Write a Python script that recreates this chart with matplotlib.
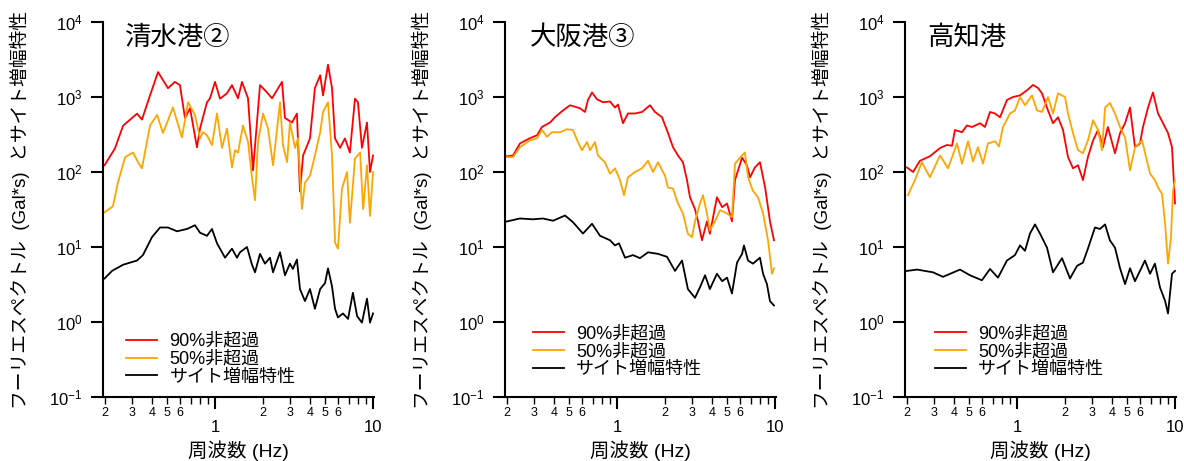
"""Fourier spectra (90% / 50% non-exceedance) and site amplification
for three ports, log-log, side by side -> out.png"""

import matplotlib
matplotlib.use("Agg")
import matplotlib.pyplot as plt
import numpy as np
from matplotlib.ticker import FixedLocator, FuncFormatter, NullLocator

plt.rcParams["font.family"] = ["Liberation Sans", "Noto Sans CJK JP"]
plt.rcParams["axes.unicode_minus"] = False

W, H = 1184, 461

# ---- 清水港② --------------------------------------------------------
shimizu_f90 = [0.20, 0.233, 0.262, 0.321, 0.345, 0.388, 0.436, 0.504, 0.558,
               0.600, 0.646, 0.695, 0.769, 0.804, 0.890, 0.930, 1.00, 1.076,
               1.191, 1.281, 1.398, 1.482, 1.618, 1.740, 1.927, 2.135, 2.295,
               2.654, 2.773, 3.07, 3.30, 3.45, 3.61, 3.99, 4.29, 4.63, 4.83,
               5.19, 5.50, 5.75, 6.19, 6.64, 7.14, 7.69, 8.03, 8.51, 9.16,
               9.57, 10.0]
shimizu_a90 = [123, 207, 414, 600, 500, 1050, 2150, 1310, 1590, 1440, 520,
               710, 213, 380, 850, 960, 1590, 950, 1120, 1440, 960, 1590, 960,
               105, 1440, 1150, 960, 1590, 525, 457, 600, 55, 166, 280, 1320,
               1950, 1050, 2700, 1320, 280, 210, 280, 182, 950, 850, 210, 457,
               100, 166]
shimizu_f50 = [0.20, 0.226, 0.243, 0.270, 0.303, 0.326, 0.345, 0.388, 0.430,
               0.469, 0.542, 0.618, 0.675, 0.747, 0.804, 0.839, 0.890, 0.957,
               1.03, 1.107, 1.191, 1.281, 1.339, 1.398, 1.504, 1.618, 1.715,
               1.792, 1.872, 2.013, 2.165, 2.329, 2.58, 2.69, 2.86, 2.98,
               3.21, 3.35, 3.55, 3.71, 3.99, 4.29, 4.63, 4.83, 5.19, 5.50,
               5.75, 6.00, 6.36, 6.85, 7.14, 7.69, 8.28, 8.66, 9.16, 9.57,
               10.0]
shimizu_a50 = [29, 35, 72, 158, 182, 135, 112, 417, 575, 331, 724, 288, 851,
               575, 282, 339, 309, 229, 603, 209, 380, 115, 195, 182, 417,
               251, 83, 42, 251, 603, 380, 123, 851, 229, 135, 457, 209, 282,
               32, 72, 89, 166, 339, 631, 851, 166, 11.5, 9.5, 60, 100, 21,
               151, 182, 32, 123, 26, 100]
shimizu_fs = [0.20, 0.223, 0.262, 0.321, 0.350, 0.399, 0.449, 0.504, 0.575,
              0.665, 0.747, 0.804, 0.890, 0.957, 1.03, 1.157, 1.281, 1.378,
              1.439, 1.594, 1.715, 1.792, 1.927, 2.072, 2.229, 2.329, 2.58,
              2.773, 2.98, 3.11, 3.30, 3.45, 3.71, 3.99, 4.29, 4.63, 4.97,
              5.19, 5.50, 5.75, 6.00, 6.45, 6.95, 7.46, 7.93, 8.51, 9.16,
              9.57, 10.0]
shimizu_as = [3.8, 4.8, 5.8, 6.6, 7.8, 13.5, 18.2, 18.2, 16.2, 17.4, 19.5,
              15.5, 14.1, 17.4, 11.2, 7.2, 9.5, 7.2, 8.5, 10.0, 5.8, 4.6, 8.1,
              6.0, 7.2, 4.6, 8.5, 4.2, 6.0, 5.1, 6.8, 2.75, 1.9, 2.75, 1.5,
              2.75, 3.3, 5.2, 3.0, 1.5, 1.15, 1.3, 1.1, 2.45, 1.2, 0.98, 2.05,
              0.98, 1.3]

# ---- 大阪港③ --------------------------------------------------------
osaka_f90 = [0.201, 0.220, 0.243, 0.281, 0.312, 0.335, 0.377, 0.405, 0.449,
             0.504, 0.583, 0.627, 0.655, 0.695, 0.747, 0.815, 0.903, 0.971,
             1.015, 1.091, 1.174, 1.300, 1.439, 1.618, 1.740, 1.927, 2.103,
             2.262, 2.433, 2.615, 2.773, 2.897, 3.115, 3.256, 3.45, 3.71,
             3.87, 4.29, 4.63, 4.97, 5.34, 5.58, 6.19, 6.64, 6.95, 7.46,
             8.03, 8.66, 9.29, 9.85]
osaka_a90 = [162, 166, 240, 282, 309, 398, 457, 537, 646, 776, 708, 631, 912,
             1150, 933, 851, 871, 724, 794, 447, 603, 603, 631, 776, 631, 537,
             331, 214, 166, 135, 78, 46, 32, 22, 12.3, 22, 15, 46, 34, 38, 22,
             78, 155, 123, 85, 115, 135, 62, 22, 12.3]
osaka_f50 = [0.201, 0.220, 0.243, 0.281, 0.312, 0.335, 0.360, 0.388, 0.436,
             0.482, 0.527, 0.566, 0.600, 0.646, 0.675, 0.726, 0.758, 0.839,
             0.903, 0.971, 1.045, 1.107, 1.174, 1.300, 1.439, 1.571, 1.690,
             1.818, 2.013, 2.103, 2.262, 2.433, 2.615, 2.81, 2.98, 3.115,
             3.35, 3.50, 3.71, 3.87, 4.17, 4.49, 4.97, 5.34, 5.58, 6.00,
             6.45, 6.75, 7.25, 7.81, 8.40, 9.03, 9.57, 9.85]
osaka_a50 = [158, 158, 214, 263, 282, 363, 295, 339, 339, 372, 363, 251, 195,
             251, 195, 251, 166, 135, 95, 112, 78, 49, 85, 100, 112, 141, 100,
             135, 89, 62, 60, 38, 28, 15, 13.5, 22, 38, 49, 28, 16.6, 22, 31,
             28, 25, 129, 155, 182, 85, 56, 46, 28, 12.3, 4.4, 5.2]
osaka_fs = [0.201, 0.243, 0.294, 0.340, 0.394, 0.469, 0.527, 0.609, 0.695,
            0.781, 0.903, 0.971, 1.03, 1.124, 1.263, 1.398, 1.571, 1.818,
            2.072, 2.329, 2.58, 2.81, 3.115, 3.35, 3.61, 3.87, 4.29, 4.63,
            4.97, 5.34, 5.75, 6.19, 6.36, 6.75, 7.25, 8.03, 8.40, 8.89,
            9.29, 9.85]
osaka_as = [21.9, 24, 23.4, 24, 22.4, 26.3, 21.4, 15.1, 20.4, 14.1, 12.3,
            10.5, 11.2, 7.2, 7.8, 7.1, 8.5, 8.1, 7.4, 4.8, 6.6, 2.75, 2.1,
            2.9, 4.2, 2.75, 4.4, 3.5, 3.9, 2.4, 6.2, 8.1, 10.5, 6.6, 6.0, 7.2,
            4.4, 3.2, 1.9, 1.66]

# ---- 高知港 ----------------------------------------------------------
kochi_f90 = [0.201, 0.220, 0.243, 0.281, 0.326, 0.360, 0.388, 0.405, 0.449,
             0.482, 0.519, 0.583, 0.627, 0.675, 0.726, 0.781, 0.864, 0.943,
             1.045, 1.157, 1.263, 1.358, 1.439, 1.571, 1.690, 1.818, 1.956,
             2.103, 2.262, 2.433, 2.615, 2.81, 3.03, 3.256, 3.50, 3.76, 4.17,
             4.49, 4.83, 5.19, 5.58, 6.00, 6.27, 6.75, 7.25, 7.81, 8.40,
             9.03, 9.57, 10.0]
kochi_a90 = [115, 100, 141, 162, 209, 229, 224, 363, 339, 417, 398, 447, 398,
             631, 603, 537, 912, 1000, 1050, 1230, 1450, 1320, 1120, 661, 447,
             537, 363, 158, 112, 123, 78, 158, 263, 363, 214, 398, 178, 331,
             447, 724, 214, 240, 398, 724, 1150, 603, 447, 331, 214, 38]
kochi_f50 = [0.204, 0.226, 0.250, 0.281, 0.326, 0.366, 0.417, 0.449, 0.490,
             0.527, 0.566, 0.609, 0.655, 0.726, 0.769, 0.815, 0.903, 0.971,
             1.045, 1.124, 1.244, 1.339, 1.439, 1.571, 1.690, 1.818, 2.013,
             2.103, 2.262, 2.433, 2.615, 2.81, 3.03, 3.256, 3.45, 3.61, 3.87,
             4.17, 4.49, 4.83, 5.19, 5.58, 6.19, 6.64, 6.95, 7.46, 7.81,
             8.28, 8.66, 9.03, 9.43, 9.71, 10.0]
kochi_a50 = [49, 78, 135, 85, 166, 112, 240, 129, 257, 138, 214, 129, 240,
             257, 219, 398, 603, 661, 1000, 776, 1050, 661, 631, 1000, 603,
             1120, 1000, 603, 331, 195, 178, 263, 490, 363, 195, 724, 832,
             603, 398, 288, 105, 214, 263, 141, 95, 78, 62, 51, 20, 6.0, 13.5,
             56, 78]
kochi_fs = [0.201, 0.233, 0.294, 0.340, 0.436, 0.504, 0.600, 0.675, 0.758,
            0.864, 0.971, 1.045, 1.124, 1.208, 1.300, 1.398, 1.549, 1.690,
            1.927, 2.165, 2.398, 2.615, 2.81, 3.115, 3.35, 3.61, 3.87, 4.17,
            4.49, 4.83, 5.19, 5.58, 6.00, 6.45, 6.95, 7.46, 8.03, 8.66, 9.03,
            9.57, 10.0]
kochi_as = [4.8, 5.0, 4.6, 4.0, 5.0, 4.2, 3.6, 5.1, 3.9, 6.6, 7.8, 10.5, 8.9,
            15.1, 20, 15.1, 9.8, 4.6, 7.1, 3.8, 5.6, 6.2, 9.5, 18.2, 17.4, 20,
            12.3, 9.8, 5.2, 3.2, 5.2, 3.5, 4.8, 6.6, 4.4, 6.0, 2.9, 1.9, 1.3,
            4.4, 4.8]

titles = ["清水港②", "大阪港③", "高知港"]
labels = ["90%非超過", "50%非超過", "サイト増幅特性"]
ylabel = "フーリエスペクトル  (Gal*s)  とサイト増幅特性"
xlabel = "周波数 (Hz)"

panels = [
    (shimizu_f90, shimizu_a90, shimizu_f50, shimizu_a50, shimizu_fs, shimizu_as),
    (osaka_f90, osaka_a90, osaka_f50, osaka_a50, osaka_fs, osaka_as),
    (kochi_f90, kochi_a90, kochi_f50, kochi_a50, kochi_fs, kochi_as),
]

# panel geometry in pixels: left edge, title x, legend anchor
ax_left = [102.8, 504.8, 904.8]
title_x = [0.082, 0.093, 0.082]
leg_anchor = [(0.086, 0.030), (0.104, 0.050), (0.111, 0.050)]
AX_W, AX_BOT, AX_H = 270.9, 397.0, 375.0

minor_vals = [0.2, 0.3, 0.4, 0.5, 0.6, 0.7, 0.8, 0.9,
              2, 3, 4, 5, 6, 7, 8, 9]


def minor_fmt(v, _pos):
    m = int(round(v / 10 ** np.floor(np.log10(v) + 1e-9)))
    return str(m) if m <= 6 else ""


fig = plt.figure(figsize=(W / 100, H / 100), dpi=100)
for i, (f90, a90, f50, a50, fs, as_) in enumerate(panels):
    ax = fig.add_axes([ax_left[i] / W, (H - AX_BOT) / H, AX_W / W, AX_H / H])
    ax.plot(f90, a90, color="#ff0000", lw=1.3, label=labels[0])
    ax.plot(f50, a50, color="#ffa500", lw=1.3, label=labels[1])
    ax.plot(fs, as_, color="black", lw=1.3, label=labels[2])

    ax.set_xscale("log")
    ax.set_yscale("log")
    ax.set_xlim(0.195, 10.1)
    ax.set_ylim(0.1, 1e4)
    for s in ("top", "right"):
        ax.spines[s].set_visible(False)
    for s in ("left", "bottom"):
        ax.spines[s].set_linewidth(1.5)

    ax.xaxis.set_major_locator(FixedLocator([1, 10]))
    ax.xaxis.set_major_formatter(FuncFormatter(lambda v, p: f"{v:g}"))
    ax.xaxis.set_minor_locator(FixedLocator(minor_vals))
    ax.xaxis.set_minor_formatter(FuncFormatter(minor_fmt))
    ax.yaxis.set_major_locator(FixedLocator([0.1, 1, 10, 100, 1e3, 1e4]))
    ax.yaxis.set_major_formatter(FuncFormatter(
        lambda v, p: r"$\mathregular{10^{%d}}$" % round(np.log10(v))))
    ax.yaxis.set_minor_locator(NullLocator())

    ax.tick_params(axis="both", which="major", length=8.5, width=1.5,
                   labelsize=12)
    ax.tick_params(axis="x", which="major", pad=8)
    ax.tick_params(axis="y", which="major", pad=6)
    ax.tick_params(axis="x", which="minor", length=5, width=1.0,
                   labelsize=9, pad=2)

    ax.text(title_x[i], 0.957, titles[i], transform=ax.transAxes,
            fontsize=19, ha="left", va="center")
    ax.set_ylabel(ylabel, fontsize=13.5)
    ax.yaxis.set_label_coords(-0.27, 0.5)
    ax.set_xlabel(xlabel, fontsize=14)
    ax.xaxis.set_label_coords(0.5, -0.115)
    ax.legend(loc="lower left", bbox_to_anchor=leg_anchor[i], frameon=False,
              fontsize=13, handlelength=1.7, handletextpad=0.7,
              labelspacing=0.05, borderpad=0, borderaxespad=0)

fig.savefig("out.png", dpi=100)
